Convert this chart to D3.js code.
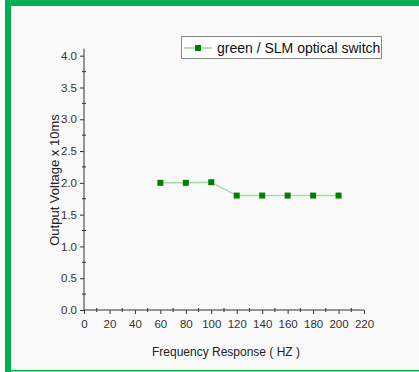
<!DOCTYPE html>
<html>
<head>
<meta charset="utf-8">
<script src="https://cdn.jsdelivr.net/npm/d3@7"></script>
<style>
  body { margin: 0; background: #fff; }
  svg { display: block; font-family: "Liberation Sans", Arial, sans-serif; }
</style>
</head>
<body>
<svg id="chart" width="419" height="372"></svg>
<script>
// data
const freq = [60, 80, 100, 120, 140, 160, 180, 200];
const voltage = [2.0, 2.0, 2.01, 1.8, 1.8, 1.8, 1.8, 1.8];
const xTicks = [0, 20, 40, 60, 80, 100, 120, 140, 160, 180, 200, 220];
const yTicks = [0.0, 0.5, 1.0, 1.5, 2.0, 2.5, 3.0, 3.5, 4.0];
const seriesName = "green / SLM optical switch";

const svg = d3.select("#chart");

// frame: green band on top, left, thin line at bottom
svg.append("rect").attr("x", 11).attr("y", 6).attr("width", 408).attr("height", 365).attr("fill", "#f9f9f9");
svg.append("rect").attr("x", 5).attr("y", 0).attr("width", 414).attr("height", 6).attr("fill", "#00b050");
svg.append("rect").attr("x", 5).attr("y", 0).attr("width", 6).attr("height", 372).attr("fill", "#00b050");
svg.append("rect").attr("x", 11).attr("y", 370).attr("width", 408).attr("height", 1.5).attr("fill", "#00b050");

var x = d3.scaleLinear().domain([0, 220]).range([84, 364]);
var y = d3.scaleLinear().domain([0, 4]).range([310, 55.7]);

var g = svg.append("g");

// x axis
var xAxis = g.append("g").attr("transform", "translate(0,310)")
  .call(d3.axisBottom(x).tickValues(xTicks).tickSize(4).tickFormat(d3.format("d")));
xAxis.select(".domain").attr("d", "M" + x(0) + ",0H" + x(220)).attr("stroke", "#333");
xAxis.selectAll(".tick line").attr("stroke", "#333");
xAxis.selectAll(".tick text").attr("fill", "#333").attr("font-size", 11.5).attr("dy", "0.95em");
g.append("g").selectAll("line")
  .data(d3.range(10, 220, 20))
  .join("line")
  .attr("x1", d => x(d)).attr("x2", d => x(d))
  .attr("y1", 308).attr("y2", 312)
  .attr("stroke", "#333");

// y axis
var yAxis = g.append("g").attr("transform", "translate(84,0)")
  .call(d3.axisLeft(y).tickValues(yTicks).tickSize(4).tickFormat(d3.format(".1f")));
yAxis.select(".domain").attr("d", "M0," + (y(4) - 7) + "V" + y(0)).attr("stroke", "#333");
yAxis.selectAll(".tick line").attr("stroke", "#333");
yAxis.selectAll(".tick text").attr("fill", "#333").attr("font-size", 11.5);
g.append("g").selectAll("line")
  .data(d3.range(0.25, 4, 0.5))
  .join("line")
  .attr("x1", 82).attr("x2", 86)
  .attr("y1", d => y(d)).attr("y2", d => y(d))
  .attr("stroke", "#333");

// axis titles
svg.append("text")
  .attr("x", 226).attr("y", 356)
  .attr("text-anchor", "middle").attr("font-size", 12).attr("fill", "#222")
  .text("Frequency Response ( HZ )");
svg.append("text")
  .attr("transform", "translate(59,180) rotate(-90)")
  .attr("text-anchor", "middle").attr("font-size", 13).attr("fill", "#222")
  .text("Output Voltage x 10ms");

// series
var pts = freq.map((f, i) => [f, voltage[i]]);
svg.append("path")
  .datum(pts)
  .attr("fill", "none")
  .attr("stroke", "#a8dba8")
  .attr("stroke-width", 1.5)
  .attr("d", d3.line().x(d => x(d[0])).y(d => y(d[1])));
svg.append("g").selectAll("rect")
  .data(pts)
  .join("rect")
  .attr("x", d => x(d[0]) - 3).attr("y", d => y(d[1]) - 3)
  .attr("width", 6).attr("height", 6)
  .attr("fill", "#008000");

// legend
var lg = svg.append("g");
lg.append("rect").attr("x", 181.5).attr("y", 36.5).attr("width", 200).attr("height", 22)
  .attr("fill", "#fff").attr("stroke", "#888");
lg.append("line").attr("x1", 184).attr("x2", 212).attr("y1", 48).attr("y2", 48)
  .attr("stroke", "#66c266").attr("stroke-width", 1);
lg.append("rect").attr("x", 195).attr("y", 45).attr("width", 6).attr("height", 6).attr("fill", "#008000");
lg.append("text").attr("x", 217).attr("y", 53).attr("font-size", 14).attr("fill", "#111")
  .text(seriesName);
</script>
</body>
</html>
